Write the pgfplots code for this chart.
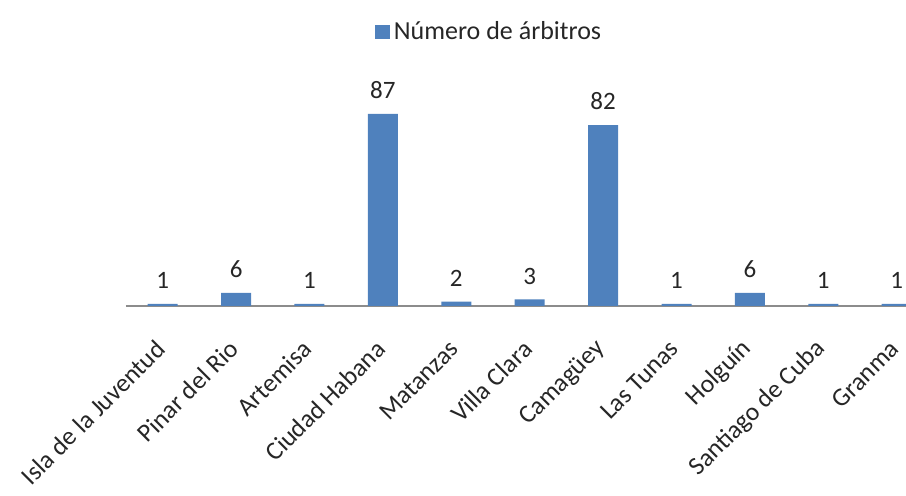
\documentclass[border=0pt]{standalone}
\usepackage{pgfplots}
\pgfplotsset{compat=1.18}
\usepackage{fontspec}
\setmainfont{Carlito}

\definecolor{bblue}{HTML}{4F81BD}
\definecolor{axgray}{HTML}{8C8C8C}
\definecolor{txt}{HTML}{262626}

\begin{document}
\begin{tikzpicture}
    % page cut like the reference (right edge crops the last bar)
    \path[use as bounding box] (-63pt,-95pt) rectangle (390pt,153pt);
    \begin{axis}[
        at={(0,0)}, anchor=south west,
        scale only axis,
        width=403.7pt, height=110.35pt,
        ymin=0, ymax=100,
        xmin=-0.5, xmax=10.5,
        axis x line=bottom,
        axis y line=none,
        axis line style={axgray, line width=0.6pt, -},
        x axis line style={-},
        ybar, bar width=15pt,
        clip=false,
        xtick=data,
        major x tick style=transparent,
        xticklabels={Isla de la Juventud, Pinar del Rio, Artemisa, Ciudad Habana,
            Matanzas, Villa Clara, Camagüey, Las Tunas, Holguín, Santiago de Cuba, Granma},
        xticklabel style={rotate=45, anchor=east, font=\fontsize{12.8}{15}\selectfont,
            text=txt, yshift=-10pt, xshift=-8pt},
        nodes near coords,
        /pgf/number format/assume math mode=true,
        every node near coord/.append style={anchor=south, yshift=4pt,
            font=\fontsize{12.5}{14}\selectfont, text=txt},
        legend style={draw=none, fill=none, at={(0.451,1.2415)}, anchor=center,
            font=\fontsize{13}{15}\selectfont, text=txt},
        legend image code/.code={\fill[#1] (0pt,-3.6pt) rectangle (7.4pt,3.6pt);},
    ]
        \addplot[draw=none, fill=bblue] coordinates {
            (0,1) (1,6) (2,1) (3,87) (4,2) (5,3) (6,82) (7,1) (8,6) (9,1) (10,1)};
        \legend{Número de árbitros}
    \end{axis}
\end{tikzpicture}
\end{document}
